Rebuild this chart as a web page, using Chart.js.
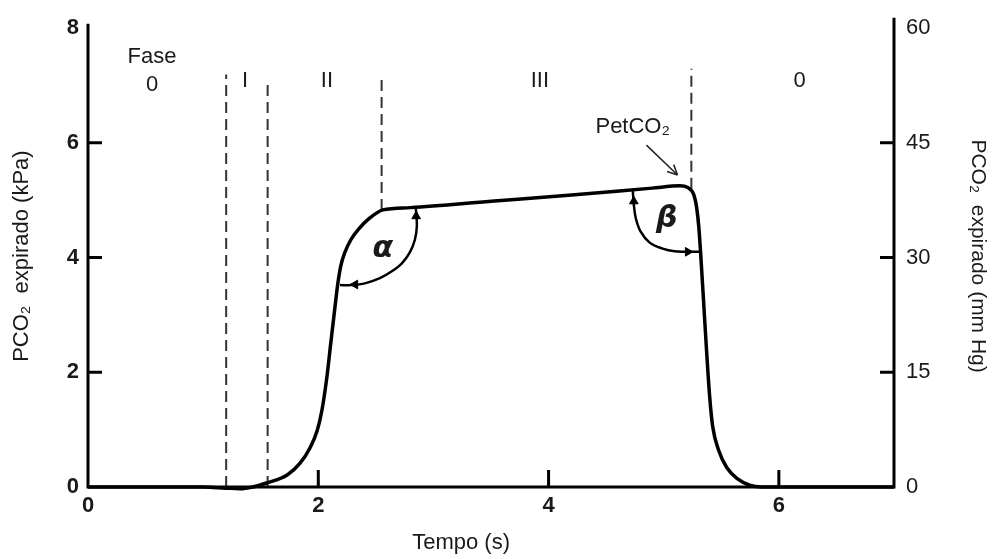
<!DOCTYPE html>
<html><head><meta charset="utf-8">
<script src="https://cdn.jsdelivr.net/npm/chart.js@4.4.0/dist/chart.umd.min.js"></script>
<style>html,body{margin:0;padding:0;background:#fff;overflow:hidden;}</style>
</head><body>
<canvas id="c" width="993" height="559"></canvas>
<script>
// ---- data ----
const timeS   = [0, 1.0, 1.2, 1.32, 1.43, 1.55, 1.73, 1.84, 1.93, 1.99, 2.03, 2.075, 2.109, 2.144, 2.170, 2.196, 2.231, 2.283, 2.352, 2.448, 2.561, 2.8, 3.5, 4.2, 4.9, 5.139, 5.208, 5.260, 5.286, 5.304, 5.321, 5.347, 5.373, 5.399, 5.425, 5.477, 5.547, 5.642, 5.747, 5.851, 7.0];
const pco2kPa = [0, 0, -0.02, -0.03, 0, 0.07, 0.21, 0.41, 0.69, 0.98, 1.32, 1.92, 2.52, 3.12, 3.55, 3.86, 4.09, 4.31, 4.50, 4.69, 4.83, 4.87, 4.98, 5.09, 5.21, 5.25, 5.22, 5.10, 4.87, 4.55, 4.07, 3.21, 2.35, 1.58, 1.06, 0.64, 0.34, 0.14, 0.03, 0, 0];

const phaseBoundaryTime = [1.2, 1.56, 2.55, 5.24];
const phaseBoundaryLow  = [0, 0, 4.83, 5.2];
const phaseBoundaryHigh = [7.19, 7.10, 7.19, 7.29];

const alphaArcTime = [2.188, 2.292, 2.405, 2.535, 2.639, 2.726, 2.795, 2.839, 2.856, 2.847];
const alphaArcKPa  = [3.52, 3.52, 3.55, 3.64, 3.76, 3.90, 4.09, 4.31, 4.55, 4.87];
const betaArcTime  = [4.731, 4.740, 4.757, 4.800, 4.878, 4.983, 5.095, 5.313];
const betaArcKPa   = [5.18, 4.93, 4.69, 4.45, 4.26, 4.16, 4.11, 4.10];
const arrowTime    = [2.32, 2.85, 4.74, 5.21];
const arrowKPa     = [3.53, 4.72, 4.98, 4.10];
const arrowDir     = [270, 0, 0, 90];
const petPointerTime = [4.85, 5.12];
const petPointerKPa  = [5.96, 5.44];

const xTicks  = [0, 2, 4, 6];
const yTicks  = [0, 2, 4, 6, 8];
const y2Ticks = [0, 15, 30, 45, 60];

const phaseLabels = ['Fase', '0', 'I', 'II', 'III', '0', 'PetCO₂', 'α', 'β'];
const phaseLabelTime = [0.556, 0.556, 1.363, 2.075, 3.924, 6.181, 4.731, 2.561, 5.026];
const phaseLabelKPa  = [7.50, 7.00, 7.07, 7.07, 7.07, 7.07, 6.27, 4.15, 4.67];
const xTitle = 'Tempo (s)';
const xTitleAt = 3.24;
// ---------------------------------------

const FAM = "'Liberation Sans', Arial, sans-serif";
const INK = '#1a1a1a';
Chart.defaults.font.family = FAM;
Chart.defaults.color = INK;

const pts = (xs, ys) => xs.map((v, i) => ({x: v, y: ys[i]}));

const datasets = [{
  label: 'PCO2', data: pts(timeS, pco2kPa), showLine: true,
  borderColor: '#000', borderWidth: 3.5, pointRadius: 0,
  cubicInterpolationMode: 'monotone', clip: false
}];
phaseBoundaryTime.forEach((t, i) => datasets.push({
  label: 'fase' + i, data: [{x: t, y: phaseBoundaryLow[i]}, {x: t, y: phaseBoundaryHigh[i]}],
  showLine: true, borderColor: '#333', borderWidth: 2, borderDash: [11, 6], pointRadius: 0
}));
datasets.push({label: 'alpha', data: pts(alphaArcTime, alphaArcKPa), showLine: true,
  borderColor: '#000', borderWidth: 2.5, pointRadius: 0, tension: 0.35});
datasets.push({label: 'beta', data: pts(betaArcTime, betaArcKPa), showLine: true,
  borderColor: '#000', borderWidth: 2.5, pointRadius: 0, tension: 0.35});
datasets.push({label: 'arrows', data: pts(arrowTime, arrowKPa), showLine: false,
  pointStyle: 'triangle', pointRadius: 5, pointRotation: arrowDir,
  backgroundColor: '#000', borderColor: '#000', borderWidth: 1});
const PET_IDX = datasets.length;
datasets.push({label: 'pet', data: pts(petPointerTime, petPointerKPa), showLine: true,
  borderColor: '#222', borderWidth: 1.5, pointRadius: 0});

const fixTicks = arr => scale => { scale.ticks = arr.map(v => ({value: v})); };

const decor = {
  id: 'decor',
  afterDraw(chart) {
    const {ctx, chartArea: a, scales: {x, y, y2}} = chart;
    ctx.save();
    ctx.strokeStyle = '#000';
    ctx.lineWidth = 3;
    ctx.lineCap = 'square';
    ctx.beginPath();
    ctx.moveTo(a.left, a.top);
    ctx.lineTo(a.left, a.bottom);
    ctx.lineTo(a.right, a.bottom);
    ctx.lineTo(a.right, a.top - 6);
    ctx.stroke();
    ctx.lineCap = 'butt';
    ctx.beginPath();
    xTicks.slice(1).forEach(v => { const p = x.getPixelForValue(v); ctx.moveTo(p, a.bottom); ctx.lineTo(p, a.bottom - 17); });
    yTicks.slice(1, -1).forEach(v => { const p = y.getPixelForValue(v); ctx.moveTo(a.left, p); ctx.lineTo(a.left + 14, p); });
    y2Ticks.slice(1, -1).forEach(v => { const p = y2.getPixelForValue(v); ctx.moveTo(a.right, p); ctx.lineTo(a.right - 14, p); });
    ctx.stroke();

    // open arrow head at the end of PetCO2 pointer
    const m = chart.getDatasetMeta(PET_IDX).data;
    const p0 = m[0], p1 = m[m.length - 1];
    const ang = Math.atan2(p1.y - p0.y, p1.x - p0.x);
    ctx.strokeStyle = '#222'; ctx.lineWidth = 1.5;
    ctx.beginPath();
    [ang + Math.PI - 0.45, ang + Math.PI + 0.45].forEach(t => {
      ctx.moveTo(p1.x, p1.y); ctx.lineTo(p1.x + 11 * Math.cos(t), p1.y + 11 * Math.sin(t));
    });
    ctx.stroke();

    // text labels
    ctx.fillStyle = INK;
    ctx.textAlign = 'center';
    ctx.textBaseline = 'middle';
    phaseLabels.forEach((txt, i) => {
      if (txt === 'α' || txt === 'β') ctx.font = "italic bold 30px 'DejaVu Sans', sans-serif";
      else ctx.font = "22px " + FAM;
      ctx.fillText(txt, x.getPixelForValue(phaseLabelTime[i]), y.getPixelForValue(phaseLabelKPa[i]));
    });
    ctx.font = "22px " + FAM;
    ctx.fillText(xTitle, x.getPixelForValue(xTitleAt), x.bottom - 16);
    ctx.restore();
  }
};

new Chart(document.getElementById('c'), {
  type: 'scatter',
  data: {datasets},
  options: {
    responsive: false, animation: false, devicePixelRatio: 1,
    layout: {padding: {top: 18, left: 0, right: 0, bottom: 0}},
    plugins: {legend: {display: false}, tooltip: {enabled: false}},
    scales: {
      x: {
        type: 'linear', position: 'bottom', min: 0, max: 7,
        afterBuildTicks: fixTicks(xTicks),
        afterFit: s => { s.height = 72; },
        grid: {display: false, drawTicks: false}, border: {display: false},
        ticks: {padding: 6, font: {size: 22, weight: 'bold'}, color: INK},
        title: {display: false}
      },
      y: {
        type: 'linear', position: 'left', min: 0, max: 8.05,
        afterBuildTicks: fixTicks(yTicks),
        afterFit: s => { s.width = 88; },
        grid: {display: false, drawTicks: false}, border: {display: false},
        ticks: {padding: 9, font: {size: 22, weight: 'bold'}, color: INK},
        title: {display: true, text: 'PCO₂  expirado (kPa)', font: {size: 22}, color: INK, padding: {top: 9}}
      },
      y2: {
        type: 'linear', position: 'right', min: 0, max: 60.375,
        afterBuildTicks: fixTicks(y2Ticks),
        afterFit: s => { s.width = 99; },
        grid: {display: false, drawTicks: false}, border: {display: false},
        ticks: {padding: 12, font: {size: 22}, color: INK},
        title: {display: true, text: 'PCO₂  expirado (mm Hg)', font: {size: 21}, color: INK, padding: {top: 3}}
      }
    }
  },
  plugins: [decor]
});
</script>
</body></html>
